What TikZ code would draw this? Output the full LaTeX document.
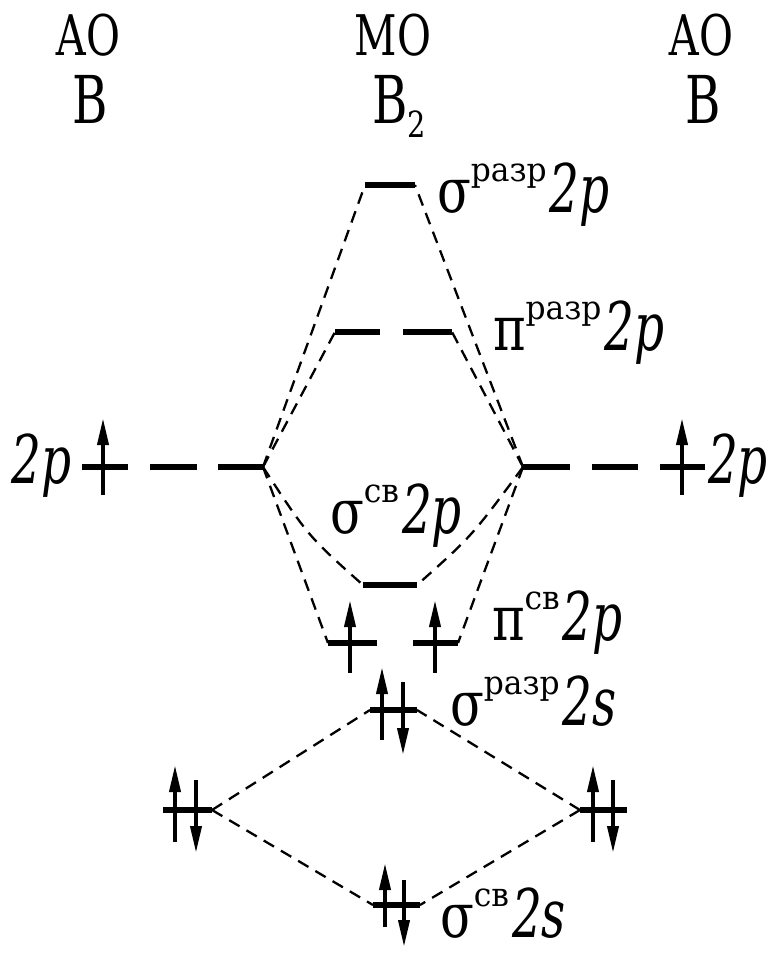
\documentclass[tikz,border=0pt]{standalone}
\usepackage{fontspec}
\setmainfont{DejaVu Serif}
\usepackage{graphicx}
\usetikzlibrary{arrows.meta}
\newcommand{\mainsz}{\fontsize{67}{80}\selectfont}
\newcommand{\supsz}{\fontsize{33}{40}\selectfont}
\newcommand{\orb}[3]{{\fontsize{62}{80}\selectfont\scalebox{0.8}[1]{#1}}\raisebox{31pt}{\supsz\scalebox{0.95}[1]{#2}}\hspace{3pt}{\mainsz\scalebox{0.7}[1]{\itshape #3}}}
\begin{document}
\begin{tikzpicture}[x=1pt,y=-1pt,
  lvl/.style={line width=5.5pt},
  conn/.style={line width=2.3pt, dash pattern=on 12pt off 8pt},
  spinup/.style={line width=3.8pt, -{Triangle[length=27pt,width=11pt]}},
  txt/.style={inner sep=0pt, outer sep=0pt}]
\useasboundingbox (0,0) rectangle (774,954);
% top labels
\node[txt, anchor=base] (aoL) at (88,55) {\fontsize{56}{70}\selectfont\scalebox{0.74}[1]{АО}};
\node[txt, anchor=base] (bL) at (90,123) {\fontsize{66}{80}\selectfont\scalebox{0.73}[1]{B}};
\node[txt, anchor=base] (mo) at (393,55) {\fontsize{56}{70}\selectfont\scalebox{0.74}[1]{МО}};
\node[txt, anchor=base west] (b2) at (372,123) {\fontsize{66}{80}\selectfont\scalebox{0.73}[1]{B}\raisebox{-14pt}{\fontsize{36}{40}\selectfont\scalebox{0.8}[1]{2}}};
\node[txt, anchor=base] (aoR) at (701,55) {\fontsize{56}{70}\selectfont\scalebox{0.74}[1]{АО}};
\node[txt, anchor=base] (bR) at (703,123) {\fontsize{66}{80}\selectfont\scalebox{0.73}[1]{B}};
% level coordinates
\coordinate (l2pa1) at (82,467);  \coordinate (l2pa2) at (128,467);
\coordinate (l2pb1) at (150,467); \coordinate (l2pb2) at (197,467);
\coordinate (l2pc1) at (218,467); \coordinate (l2pc2) at (263,467);
\coordinate (r2pa1) at (523,467); \coordinate (r2pa2) at (570,467);
\coordinate (r2pb1) at (592,467); \coordinate (r2pb2) at (638,467);
\coordinate (r2pc1) at (660,467); \coordinate (r2pc2) at (705,467);
\coordinate (sa2pL) at (365,185); \coordinate (sa2pR) at (415,185);
\coordinate (pa2pL) at (335,332); \coordinate (pa2pM1) at (380,332);
\coordinate (pa2pM2) at (403,332); \coordinate (pa2pR) at (452,332);
\coordinate (sb2pL) at (363,585); \coordinate (sb2pR) at (417,585);
\coordinate (pb2pL) at (328,643); \coordinate (pb2pM1) at (377,643);
\coordinate (pb2pM2) at (413,643); \coordinate (pb2pR) at (458,643);
\coordinate (sa2sL) at (370,710); \coordinate (sa2sR) at (417,710);
\coordinate (l2sL) at (163,810);  \coordinate (l2sR) at (212,810);
\coordinate (r2sL) at (580,810);  \coordinate (r2sR) at (627,810);
\coordinate (sb2sL) at (373,905); \coordinate (sb2sR) at (420,905);
% levels
\draw[lvl] (l2pa1) -- (l2pa2); \draw[lvl] (l2pb1) -- (l2pb2); \draw[lvl] (l2pc1) -- (l2pc2);
\draw[lvl] (r2pa1) -- (r2pa2); \draw[lvl] (r2pb1) -- (r2pb2); \draw[lvl] (r2pc1) -- (r2pc2);
\draw[lvl] (sa2pL) -- (sa2pR);
\draw[lvl] (pa2pL) -- (pa2pM1); \draw[lvl] (pa2pM2) -- (pa2pR);
\draw[lvl] (sb2pL) -- (sb2pR);
\draw[lvl] (pb2pL) -- (pb2pM1); \draw[lvl] (pb2pM2) -- (pb2pR);
\draw[lvl] (sa2sL) -- (sa2sR);
\draw[lvl] (l2sL) -- (l2sR);
\draw[lvl] (r2sL) -- (r2sR);
\draw[lvl] (sb2sL) -- (sb2sR);
% connectors
\draw[conn] (l2pc2) -- (sa2pL);
\draw[conn] (l2pc2) -- (pa2pL);
\draw[conn] (l2pc2) .. controls (308,536) .. (sb2pL);
\draw[conn] (l2pc2) -- (pb2pL);
\draw[conn] (r2pa1) -- (sa2pR);
\draw[conn] (r2pa1) -- (pa2pR);
\draw[conn] (r2pa1) .. controls (472,536) .. (sb2pR);
\draw[conn] (r2pa1) -- (pb2pR);
\draw[conn] (l2sR) -- (sa2sL);
\draw[conn] (l2sR) -- (sb2sL);
\draw[conn] (r2sL) -- (sa2sR);
\draw[conn] (r2sL) -- (sb2sR);
% electrons
\draw[spinup] (103,495) -- (103,418);
\draw[spinup] (682,495) -- (682,418);
\draw[spinup] (350,673) -- (350,600);
\draw[spinup] (435,673) -- (435,600);
\draw[spinup] (382,740) -- (382,667);
\draw[spinup] (403,682) -- (403,755);
\draw[spinup] (175,842) -- (175,765);
\draw[spinup] (196,780) -- (196,853);
\draw[spinup] (593,842) -- (593,765);
\draw[spinup] (613,780) -- (613,853);
\draw[spinup] (385,927) -- (385,863);
\draw[spinup] (404,880) -- (404,947);
% orbital labels
\node[txt, anchor=base west] (lsa2p) at (437,212) {\orb{σ}{разр}{2p}};
\node[txt, anchor=base west] (lpa2p) at (493,350) {\orb{π}{разр}{2p}};
\node[txt, anchor=base west] (lsb2p) at (330,533) {\orb{σ}{св}{2p}};
\node[txt, anchor=base west] (lpb2p) at (492,640) {\orb{π}{св}{2p}};
\node[txt, anchor=base west] (lsa2s) at (450,725) {\orb{σ}{разр}{2s}};
\node[txt, anchor=base west] (lsb2s) at (440,937) {\orb{σ}{св}{2s}};
\node[txt, anchor=base west] (l2p) at (12,483) {\mainsz\scalebox{0.7}[1]{\itshape 2p}};
\node[txt, anchor=base west] (r2p) at (708,483) {\mainsz\scalebox{0.7}[1]{\itshape 2p}};
\end{tikzpicture}
\end{document}
